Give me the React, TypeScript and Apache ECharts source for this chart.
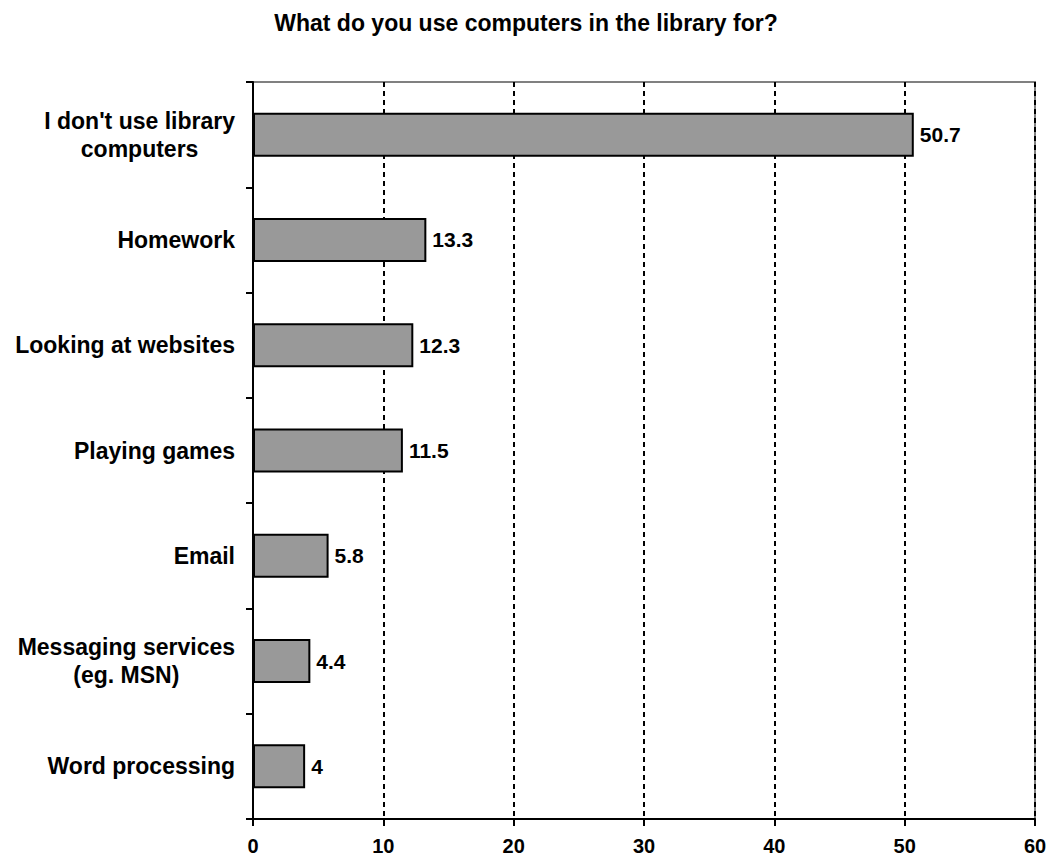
import React, { useEffect, useRef } from "react";
import * as echarts from "echarts";

const titleText = "What do you use computers in the library for?";
const categories = [
  "I don't use library\ncomputers",
  "Homework",
  "Looking at websites",
  "Playing games",
  "Email",
  "Messaging services\n(eg. MSN)",
  "Word processing",
];
const values = [50.7, 13.3, 12.3, 11.5, 5.8, 4.4, 4];
const xMin = 0;
const xMax = 60;
const xInterval = 10;

const FONT = "'Liberation Sans', Arial, sans-serif";

export default function App() {
  const ref = useRef<HTMLDivElement>(null);
  useEffect(() => {
    if (!ref.current) return;
    const chart = echarts.init(ref.current, null, { renderer: "svg" });
    chart.setOption({
      animation: false,
      backgroundColor: "#ffffff",
      title: {
        text: titleText,
        left: "center",
        top: 6,
        textStyle: { fontFamily: FONT, fontWeight: "bold", fontSize: 23, color: "#000" },
      },
      grid: {
        left: 253,
        right: 17,
        top: 82,
        bottom: 44,
        show: true,
        borderColor: "#808080",
        borderWidth: 2,
        backgroundColor: "transparent",
      },
      xAxis: {
        type: "value",
        min: xMin,
        max: xMax,
        interval: xInterval,
        axisLine: { show: true, lineStyle: { color: "#000", width: 2 } },
        axisTick: { show: true, length: 7, lineStyle: { color: "#000", width: 2 } },
        axisLabel: {
          margin: 17,
          fontFamily: FONT,
          fontWeight: "bold",
          fontSize: 20,
          color: "#000",
        },
        splitLine: {
          show: true,
          lineStyle: { color: "#000", width: 2, type: [5, 4] },
        },
      },
      yAxis: {
        type: "category",
        data: categories,
        inverse: true,
        axisLine: { show: true, lineStyle: { color: "#000", width: 2 } },
        axisTick: { show: true, length: 7, lineStyle: { color: "#000", width: 2 } },
        axisLabel: {
          margin: 18,
          align: "right",
          formatter: (v: string) =>
            v
              .split("\n")
              .map((l) => "{a|" + l + "}")
              .join("\n"),
          rich: {
            a: {
              fontFamily: FONT,
              fontWeight: "bold",
              fontSize: 23,
              color: "#000",
              align: "center",
              lineHeight: 28,
            },
          },
        },
        splitLine: { show: false },
      },
      series: [
        {
          type: "bar",
          data: values,
          barWidth: 44,
          itemStyle: { color: "#999999", borderColor: "#000", borderWidth: 2 },
          label: {
            show: true,
            position: "right",
            distance: 6,
            fontFamily: FONT,
            fontWeight: "bold",
            fontSize: 21,
            color: "#000",
          },
        },
      ],
    });
    return () => chart.dispose();
  }, []);
  return (
    <div
      ref={ref}
      style={{ position: "absolute", left: 0, top: 0, width: 1052, height: 863 }}
    />
  );
}
